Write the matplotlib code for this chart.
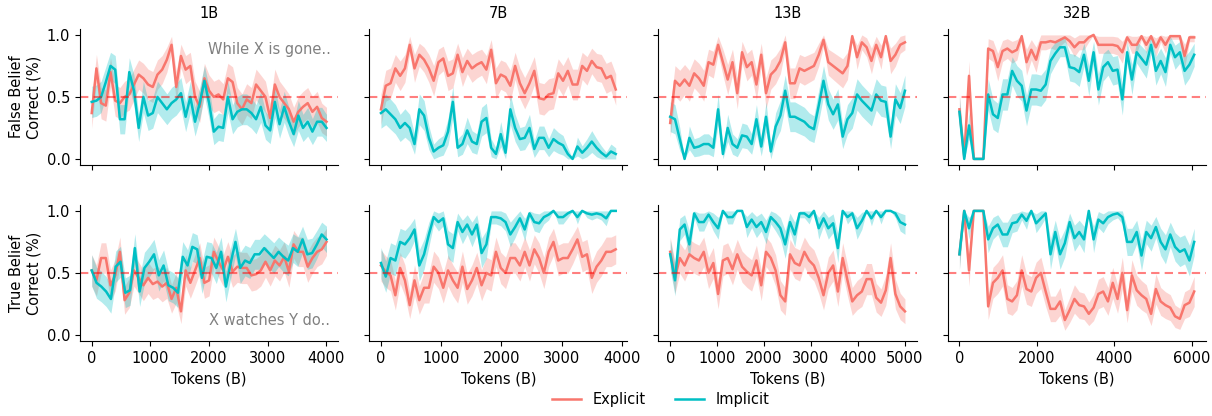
import numpy as np
import matplotlib
matplotlib.use("Agg")
import matplotlib.pyplot as plt

models = ["1B", "7B", "13B", "32B"]
max_tokens = [4000, 3900, 5000, 6060]
row_labels = ["False Belief\nCorrect (%)", "True Belief\nCorrect (%)"]
notes = ["While X is gone..", "X watches Y do.."]

# row 0: false belief, row 1: true belief
false_explicit_1b = [0.37, 0.73, 0.45, 0.43, 0.70, 0.47, 0.45, 0.50, 0.52, 0.60, 0.68, 0.65, 0.60,
                     0.58, 0.68, 0.72, 0.80, 0.92, 0.58, 0.83, 0.72, 0.75, 0.50, 0.42, 0.65, 0.55,
                     0.50, 0.52, 0.48, 0.65, 0.62, 0.45, 0.40, 0.48, 0.45, 0.60, 0.55, 0.50, 0.33,
                     0.60, 0.50, 0.45, 0.40, 0.30, 0.38, 0.42, 0.45, 0.38, 0.42, 0.33, 0.30]
false_implicit_1b = [0.46, 0.47, 0.50, 0.62, 0.75, 0.72, 0.32, 0.32, 0.70, 0.55, 0.25, 0.50, 0.35,
                     0.37, 0.50, 0.45, 0.40, 0.45, 0.48, 0.53, 0.34, 0.50, 0.30, 0.45, 0.63, 0.45,
                     0.22, 0.26, 0.25, 0.50, 0.32, 0.38, 0.40, 0.40, 0.37, 0.32, 0.42, 0.27, 0.23,
                     0.46, 0.28, 0.42, 0.30, 0.20, 0.35, 0.25, 0.30, 0.22, 0.30, 0.30, 0.25]
false_explicit_7b = [0.40, 0.59, 0.61, 0.73, 0.67, 0.73, 0.92, 0.73, 0.84, 0.80, 0.73, 0.63, 0.78,
                     0.81, 0.67, 0.69, 0.84, 0.70, 0.79, 0.73, 0.76, 0.78, 0.72, 0.88, 0.61, 0.68,
                     0.66, 0.59, 0.75, 0.61, 0.53, 0.61, 0.71, 0.49, 0.48, 0.52, 0.53, 0.69, 0.63,
                     0.71, 0.60, 0.60, 0.75, 0.71, 0.79, 0.74, 0.73, 0.65, 0.67, 0.56]
false_implicit_7b = [0.37, 0.40, 0.36, 0.32, 0.25, 0.29, 0.25, 0.12, 0.40, 0.35, 0.17, 0.06, 0.09,
                     0.11, 0.22, 0.46, 0.09, 0.12, 0.23, 0.14, 0.12, 0.30, 0.33, 0.09, 0.04, 0.20,
                     0.05, 0.40, 0.25, 0.16, 0.17, 0.25, 0.08, 0.17, 0.17, 0.09, 0.16, 0.13, 0.11,
                     0.04, 0.00, 0.10, 0.05, 0.09, 0.14, 0.09, 0.05, 0.02, 0.06, 0.04]
false_explicit_13b = [0.29, 0.63, 0.59, 0.64, 0.59, 0.69, 0.65, 0.59, 0.78, 0.76, 0.92, 0.78, 0.64,
                      0.78, 0.53, 0.86, 0.74, 0.78, 0.60, 0.84, 0.53, 0.68, 0.72, 0.79, 0.94, 0.61,
                      0.61, 0.73, 0.71, 0.73, 0.75, 0.84, 0.96, 0.78, 0.75, 0.72, 0.69, 0.75, 0.99,
                      0.82, 0.94, 0.90, 0.79, 0.92, 0.82, 0.99, 0.79, 0.84, 0.92, 0.94]
false_implicit_13b = [0.34, 0.32, 0.16, 0.00, 0.17, 0.09, 0.10, 0.12, 0.12, 0.09, 0.40, 0.04, 0.25,
                      0.12, 0.09, 0.19, 0.18, 0.12, 0.32, 0.10, 0.34, 0.06, 0.26, 0.35, 0.55, 0.34,
                      0.34, 0.32, 0.30, 0.26, 0.24, 0.43, 0.63, 0.44, 0.36, 0.44, 0.18, 0.32, 0.37,
                      0.52, 0.47, 0.43, 0.39, 0.52, 0.47, 0.46, 0.18, 0.48, 0.41, 0.55]
false_explicit_32b = [0.40, 0.02, 0.67, 0.00, 0.00, 0.00, 0.89, 0.87, 0.74, 0.87, 0.89, 0.86, 0.88,
                      0.99, 0.78, 0.88, 0.80, 0.94, 0.94, 0.95, 0.94, 0.96, 0.98, 0.95, 0.90, 0.94,
                      0.94, 0.98, 1.00, 0.92, 0.92, 0.92, 0.92, 0.91, 0.86, 0.98, 0.92, 0.92, 0.99,
                      0.92, 0.99, 0.90, 0.98, 0.92, 0.99, 0.99, 0.99, 0.83, 0.98, 0.98]
false_implicit_32b = [0.38, 0.00, 0.27, 0.00, 0.00, 0.00, 0.52, 0.36, 0.33, 0.52, 0.52, 0.71, 0.63,
                      0.59, 0.39, 0.56, 0.56, 0.55, 0.60, 0.79, 0.85, 0.90, 0.90, 0.74, 0.73, 0.70,
                      0.84, 0.63, 0.86, 0.56, 0.74, 0.78, 0.71, 0.72, 0.48, 0.86, 0.64, 0.86, 0.81,
                      0.76, 0.92, 0.71, 0.79, 0.70, 0.92, 0.82, 0.86, 0.71, 0.76, 0.84]

true_explicit_1b = [0.52, 0.44, 0.62, 0.62, 0.40, 0.48, 0.67, 0.28, 0.34, 0.52, 0.46, 0.40, 0.46,
                    0.41, 0.43, 0.39, 0.42, 0.29, 0.38, 0.19, 0.52, 0.42, 0.52, 0.62, 0.42, 0.44,
                    0.67, 0.59, 0.52, 0.63, 0.51, 0.55, 0.54, 0.54, 0.48, 0.49, 0.52, 0.59, 0.52,
                    0.60, 0.56, 0.63, 0.51, 0.73, 0.67, 0.67, 0.55, 0.62, 0.67, 0.69, 0.75]
true_implicit_1b = [0.52, 0.42, 0.39, 0.35, 0.29, 0.55, 0.59, 0.34, 0.36, 0.70, 0.35, 0.54, 0.59,
                    0.65, 0.48, 0.56, 0.40, 0.38, 0.34, 0.63, 0.56, 0.71, 0.69, 0.46, 0.63, 0.62,
                    0.54, 0.67, 0.39, 0.58, 0.75, 0.54, 0.60, 0.58, 0.65, 0.65, 0.70, 0.66, 0.62,
                    0.67, 0.63, 0.60, 0.70, 0.67, 0.77, 0.65, 0.66, 0.73, 0.81, 0.77]
true_explicit_7b = [0.56, 0.51, 0.48, 0.32, 0.54, 0.44, 0.24, 0.44, 0.28, 0.38, 0.38, 0.55, 0.50,
                    0.38, 0.52, 0.44, 0.38, 0.55, 0.37, 0.44, 0.54, 0.40, 0.50, 0.48, 0.67, 0.54,
                    0.50, 0.62, 0.62, 0.56, 0.67, 0.56, 0.69, 0.62, 0.50, 0.67, 0.75, 0.60, 0.62,
                    0.62, 0.69, 0.77, 0.63, 0.65, 0.46, 0.55, 0.60, 0.67, 0.67, 0.69]
true_implicit_7b = [0.58, 0.47, 0.62, 0.60, 0.75, 0.73, 0.78, 0.85, 0.56, 0.65, 0.81, 0.95, 0.91,
                    0.94, 0.73, 0.70, 0.91, 0.83, 0.89, 0.81, 0.89, 0.66, 0.73, 0.95, 0.95, 0.94,
                    0.91, 0.81, 0.87, 0.94, 0.85, 0.98, 0.91, 0.90, 0.95, 0.97, 1.00, 0.95, 0.95,
                    0.98, 1.00, 0.95, 1.00, 0.98, 0.97, 0.98, 0.97, 0.94, 1.00, 1.00]
true_explicit_13b = [0.67, 0.46, 0.62, 0.56, 0.65, 0.62, 0.60, 0.67, 0.50, 0.58, 0.33, 0.60, 0.62,
                     0.53, 0.65, 0.55, 0.51, 0.48, 0.60, 0.40, 0.67, 0.62, 0.52, 0.32, 0.27, 0.65,
                     0.58, 0.56, 0.67, 0.60, 0.56, 0.46, 0.32, 0.50, 0.56, 0.35, 0.62, 0.44, 0.27,
                     0.32, 0.35, 0.45, 0.45, 0.30, 0.26, 0.36, 0.62, 0.33, 0.23, 0.19]
true_implicit_13b = [0.65, 0.44, 0.85, 0.89, 0.73, 0.98, 0.91, 0.91, 0.97, 0.91, 0.86, 1.00, 0.95,
                     0.95, 1.00, 1.00, 0.87, 0.93, 0.87, 0.91, 0.83, 0.95, 0.91, 0.86, 0.73, 0.91,
                     0.81, 0.98, 0.98, 0.95, 1.00, 0.86, 0.94, 0.86, 0.90, 0.70, 1.00, 0.95, 0.98,
                     0.86, 0.92, 1.00, 0.94, 1.00, 0.95, 1.00, 1.00, 0.98, 0.91, 0.89]
true_explicit_32b = [0.65, 1.00, 0.52, 1.00, 1.00, 1.00, 0.23, 0.42, 0.46, 0.52, 0.29, 0.27, 0.32,
                     0.52, 0.37, 0.35, 0.46, 0.50, 0.35, 0.21, 0.21, 0.27, 0.12, 0.20, 0.29, 0.24,
                     0.23, 0.17, 0.22, 0.33, 0.35, 0.27, 0.42, 0.29, 0.50, 0.20, 0.48, 0.36, 0.32,
                     0.29, 0.17, 0.37, 0.27, 0.24, 0.22, 0.15, 0.13, 0.24, 0.26, 0.35]
true_implicit_32b = [0.65, 1.00, 0.86, 1.00, 1.00, 1.00, 0.77, 0.86, 0.89, 0.81, 0.81, 0.90, 0.91,
                     0.97, 0.92, 1.00, 0.90, 0.94, 0.98, 0.65, 0.83, 0.65, 0.74, 0.91, 0.78, 0.83,
                     0.77, 1.00, 0.77, 0.93, 0.90, 0.95, 0.97, 0.98, 0.95, 0.75, 0.75, 0.83, 0.64,
                     0.83, 0.78, 0.87, 0.75, 0.69, 0.81, 0.71, 0.67, 0.69, 0.60, 0.75]

explicit = [[false_explicit_1b, false_explicit_7b, false_explicit_13b, false_explicit_32b],
            [true_explicit_1b, true_explicit_7b, true_explicit_13b, true_explicit_32b]]
implicit = [[false_implicit_1b, false_implicit_7b, false_implicit_13b, false_implicit_32b],
            [true_implicit_1b, true_implicit_7b, true_implicit_13b, true_implicit_32b]]

N_TRIALS = 60  # questions per checkpoint, used for the 95% band
RED = "#F8766D"
TEAL = "#00BFC4"


def draw(ax, vals, xmax, color, label):
    y = np.array(vals)
    x = np.linspace(0, xmax, len(y))
    half = 1.96 * np.sqrt(y * (1 - y) / N_TRIALS)
    ax.fill_between(x, np.clip(y - half, 0, 1), np.clip(y + half, 0, 1),
                    color=color, alpha=0.3, lw=0)
    return ax.plot(x, y, color=color, lw=1.8, label=label)[0]


fig, axes = plt.subplots(2, 4, figsize=(12.12, 4.16), dpi=100, sharex="col", sharey="row")
fig.subplots_adjust(left=0.066, right=0.995, top=0.931, bottom=0.18, wspace=0.12, hspace=0.29)

for r in range(2):
    for c in range(4):
        ax = axes[r, c]
        h1 = draw(ax, explicit[r][c], max_tokens[c], RED, "Explicit")
        h2 = draw(ax, implicit[r][c], max_tokens[c], TEAL, "Implicit")
        ax.axhline(0.5, color="red", ls=(0, (4, 2.5)), lw=1.5, alpha=0.5)
        ax.set_ylim(-0.05, 1.05)
        ax.set_yticks([0.0, 0.5, 1.0])
        ax.spines["top"].set_visible(False)
        ax.spines["right"].set_visible(False)
        ax.tick_params(labelsize=10.5)
        if r == 0:
            ax.set_title(models[c], fontsize=10.5, pad=8)
        else:
            ax.set_xlabel("Tokens (B)", fontsize=10.5)
    axes[r, 0].set_ylabel(row_labels[r], fontsize=10.5)

axes[1, 2].set_xticks([0, 1000, 2000, 3000, 4000, 5000])
axes[1, 3].set_xticks([0, 2000, 4000, 6000])

axes[0, 0].text(0.97, 0.85, notes[0], transform=axes[0, 0].transAxes,
                ha="right", va="center", color="gray", fontsize=10.5)
axes[1, 0].text(0.97, 0.15, notes[1], transform=axes[1, 0].transAxes,
                ha="right", va="center", color="gray", fontsize=10.5)

fig.legend([h1, h2], ["Explicit", "Implicit"], loc="lower center",
           bbox_to_anchor=(0.545, -0.01), ncol=2, frameon=False, fontsize=10.5)

fig.savefig("out.png", dpi=100)
